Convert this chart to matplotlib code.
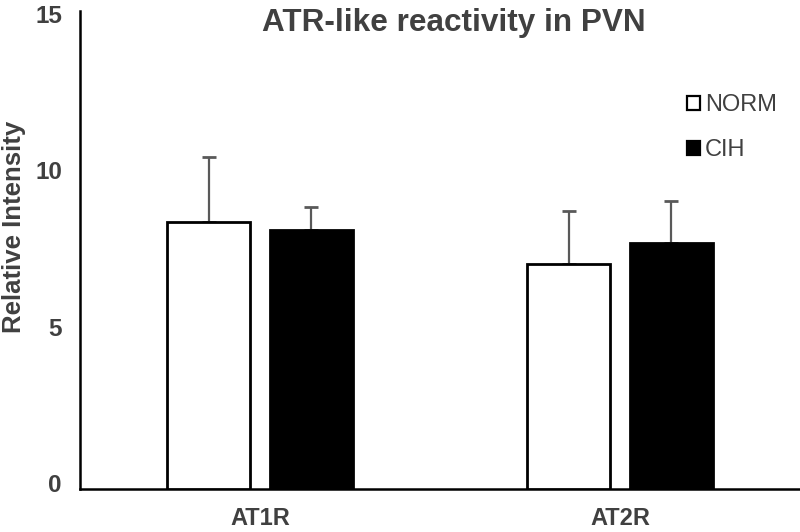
import matplotlib.pyplot as plt
import matplotlib.transforms as mtransforms
from matplotlib.patches import Patch
import numpy as np

# values
groups = ["AT1R", "AT2R"]
series = ["NORM", "CIH"]
norm_mean = [8.53, 7.19]
norm_err = [2.08, 1.69]
cih_mean = [8.27, 7.86]
cih_err = [0.74, 1.34]
yticks = [0, 5, 10, 15]

plt.rcParams['font.family'] = ['Liberation Sans', 'DejaVu Sans']

fig = plt.figure(figsize=(8, 5.32), dpi=100)
ax = fig.add_axes([0.1, 0.0808, 0.9, 0.898])

x = np.arange(len(groups))
width = 0.23
off = 0.143
errcol = '#595959'
txtcol = '#404040'

ax.bar(x - off, norm_mean, width, color='white', edgecolor='black', linewidth=2, zorder=3)
ax.bar(x + off, cih_mean, width, color='black', edgecolor='black', linewidth=2, zorder=3)
# upper-only error bars, drawn under the bars so the lower cap is hidden
for xs, m, e in [(x - off, norm_mean, norm_err), (x + off, cih_mean, cih_err)]:
    ax.errorbar(xs, m, yerr=[np.zeros(len(m)), e], fmt='none', ecolor=errcol,
                elinewidth=1.6, capsize=5, capthick=2, zorder=2)

ax.set_xlim(-0.5, 1.5)
ax.set_ylim(0, 15.27)
ax.set_yticks(yticks)
ax.set_xticks(x)
ax.set_xticklabels(groups, fontsize=17, fontweight='bold', color=txtcol)
ax.set_yticklabels([str(v) for v in yticks], fontsize=17.5, fontweight='bold', color=txtcol)
ax.tick_params(axis='both', length=0)
ax.tick_params(axis='y', pad=13)
ax.tick_params(axis='x', pad=13)

# labels in the reference sit a bit above their value
shift = mtransforms.ScaledTranslation(0, 6 / 100, fig.dpi_scale_trans)
for lab in ax.get_yticklabels():
    lab.set_transform(lab.get_transform() + shift)

for s in ['top', 'right']:
    ax.spines[s].set_visible(False)
ax.spines['left'].set_linewidth(1.8)
ax.spines['bottom'].set_linewidth(1.8)

fig.text(0.017, 1 - 227 / 532, "Relative Intensity", fontsize=18.5, fontweight='bold',
         color=txtcol, rotation=90, ha='center', va='center')

fig.text(454 / 800, 1 - 23 / 532, "ATR-like reactivity in PVN", fontsize=22.7, fontweight='bold',
         color=txtcol, ha='center', va='center')

handles = [Patch(facecolor='white', edgecolor='black', linewidth=1.6),
           Patch(facecolor='black', edgecolor='black', linewidth=1.6)]
ax.legend(handles, series, loc='upper left', bbox_to_anchor=(687 / 800, 1 - 94 / 532),
          bbox_transform=fig.transFigure, frameon=False, borderpad=0, borderaxespad=0,
          fontsize=17, handlelength=0.55, handleheight=0.55, handletextpad=0.2,
          labelspacing=0.99, labelcolor=txtcol)

fig.savefig("out.png", dpi=100)
